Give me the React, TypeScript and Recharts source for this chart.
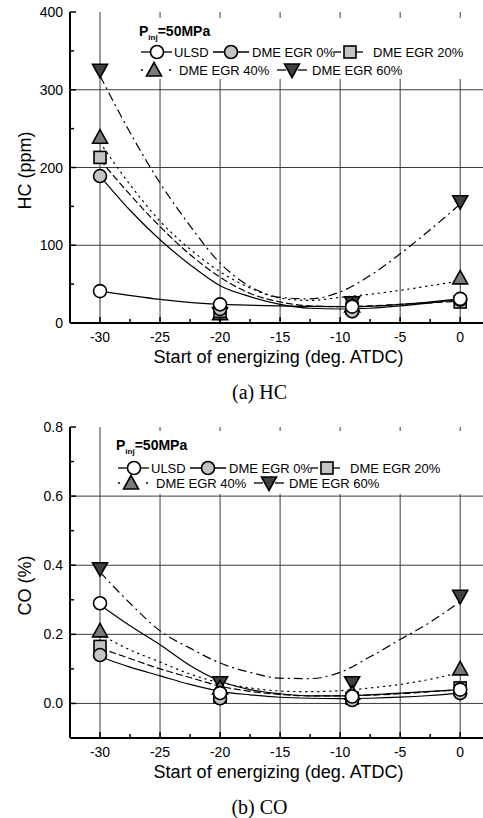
import React from 'react'
import { ComposedChart, Line, Scatter, XAxis, YAxis, ReferenceLine } from 'recharts'

// measured start of energizing points (deg. ATDC)
const runX = [-30, -20, -9, 0]
const fitX = [-30, -27.5, -25, -22.5, -20, -17.5, -15, -12.5, -10, -7.5, -5, -2.5, 0]

const xTicks = [-30, -27.5, -25, -22.5, -20, -17.5, -15, -12.5, -10, -7.5, -5, -2.5, 0]
const xGrid = [-30, -25, -20, -15, -10, -5, 0]

// (a) HC, ppm
const hcUlsd = [41, 24, 21, 31]
const hcEgr0 = [189, 18, 15, 30]
const hcEgr20 = [213, 15, 19, 27]
const hcEgr40 = [239, 12, 22, 58]
const hcEgr60 = [325, 12, 26, 156]

const hcFitEgr0 = [189, 145, 107, 75, 48, 34, 24, 19, 18, 19, 22, 26, 30]
const hcFitEgr20 = [210, 165, 124, 88, 59, 38, 27, 22, 21, 22, 24, 26, 28]
const hcFitEgr40 = [232, 178, 131, 95, 66, 45, 32, 29, 33, 37, 42, 48, 54]
const hcFitEgr60 = [318, 245, 180, 125, 77, 47, 33, 31, 40, 61, 89, 120, 153]

const hcYTicks = [0, 50, 100, 150, 200, 250, 300, 350, 400]
const hcYGrid = [100, 200, 300]

// (b) CO, %
const coUlsd = [0.29, 0.03, 0.02, 0.04]
const coEgr0 = [0.14, 0.015, 0.01, 0.03]
const coEgr20 = [0.165, 0.02, 0.015, 0.045]
const coEgr40 = [0.21, 0.045, 0.03, 0.1]
const coEgr60 = [0.39, 0.06, 0.06, 0.31]

const coFitUlsd = [0.285, 0.225, 0.17, 0.11, 0.065, 0.04, 0.028, 0.022, 0.022, 0.025, 0.03, 0.035, 0.04]
const coFitEgr0 = [0.135, 0.105, 0.08, 0.055, 0.035, 0.025, 0.018, 0.015, 0.014, 0.015, 0.018, 0.023, 0.03]
const coFitEgr20 = [0.16, 0.13, 0.1, 0.075, 0.05, 0.035, 0.026, 0.022, 0.022, 0.024, 0.028, 0.034, 0.04]
const coFitEgr40 = [0.2, 0.155, 0.12, 0.085, 0.06, 0.045, 0.036, 0.034, 0.037, 0.045, 0.055, 0.07, 0.09]
const coFitEgr60 = [0.38, 0.29, 0.21, 0.16, 0.117, 0.09, 0.073, 0.072, 0.09, 0.135, 0.185, 0.235, 0.295]

const coYTicks = [-0.1, 0, 0.1, 0.2, 0.3, 0.4, 0.5, 0.6, 0.7, 0.8]
const coYGrid = [0, 0.2, 0.4, 0.6]

const SANS = '"Liberation Sans", Arial, sans-serif'
const SERIF = '"Liberation Serif", "Times New Roman", serif'
const X_DOMAIN: [number, number] = [-32.5, 1.9]
const GRID = '#3c3c3c'

type Kind = 'circle' | 'square' | 'up' | 'down'

const DASH = {
  solid: undefined,
  dashed: '7 3',
  dotted: '1.3 4.7',
  dashdot: '9 4 2 4',
}

const series = [
  { key: 'ulsd', kind: 'circle' as Kind, fill: '#ffffff', dash: DASH.solid },
  { key: 'egr0', kind: 'circle' as Kind, fill: '#c4c4c4', dash: DASH.solid },
  { key: 'egr20', kind: 'square' as Kind, fill: '#c4c4c4', dash: DASH.dashed },
  { key: 'egr40', kind: 'up' as Kind, fill: '#7a7a7a', dash: DASH.dotted },
  { key: 'egr60', kind: 'down' as Kind, fill: '#404040', dash: DASH.dashdot },
]

const toPts = (xs: number[], ys: number[]) => xs.map((x, i) => ({ x, y: ys[i] }))

function Marker({ cx, cy, kind, fill }: { cx: number; cy: number; kind: Kind; fill: string }) {
  const st = { fill, stroke: '#000', strokeWidth: 1.6 }
  if (kind === 'circle') return <circle cx={cx} cy={cy} r={6.5} {...st} />
  if (kind === 'square') return <rect x={cx - 6} y={cy - 6} width={12} height={12} {...st} />
  if (kind === 'up')
    return <polygon points={`${cx},${cy - 7.5} ${cx + 7.5},${cy + 6} ${cx - 7.5},${cy + 6}`} {...st} />
  return <polygon points={`${cx - 7.5},${cy - 6} ${cx + 7.5},${cy - 6} ${cx},${cy + 7.5}`} {...st} />
}

function BottomTick(props: any) {
  const { x, y, payload } = props
  const v = payload.value
  const major = v % 5 === 0
  return (
    <g>
      <line x1={x} x2={x} y1={y} y2={y - (major ? 6 : 4)} stroke="#000" strokeWidth={1.5} />
      {major && (
        <text x={x} y={y + 19} textAnchor="middle" fontSize={14} fontFamily={SANS} fill="#000">
          {v}
        </text>
      )}
    </g>
  )
}

function TopTick(props: any) {
  const { x, y, payload } = props
  const major = payload.value % 5 === 0
  return <line x1={x} x2={x} y1={y} y2={y + (major ? 6 : 4)} stroke="#000" strokeWidth={1.5} />
}

function makeLeftTick(isMajor: (v: number) => boolean, fmt: (v: number) => string) {
  return (props: any) => {
    const { x, y, payload } = props
    const v = payload.value
    const major = isMajor(v)
    return (
      <g>
        <line x1={x} x2={x + (major ? 6 : 4)} y1={y} y2={y} stroke="#000" strokeWidth={1.5} />
        {major && (
          <text x={x - 7} y={y + 5} textAnchor="end" fontSize={14} fontFamily={SANS} fill="#000">
            {fmt(v)}
          </text>
        )}
      </g>
    )
  }
}

const hcLeftTick = makeLeftTick((v) => v % 100 === 0, (v) => String(v))
const coLeftTick = makeLeftTick((v) => Math.round(v * 10) % 2 === 0, (v) => v.toFixed(1))

function xTitle(caption: string) {
  return (props: any) => {
    const vb = props.viewBox
    const cx = vb.x + vb.width / 2
    return (
      <g>
        <text x={cx + 2} y={vb.y + 40} textAnchor="middle" fontSize={18} fontFamily={SANS} fill="#000">
          Start of energizing (deg. ATDC)
        </text>
        <text x={cx - 17} y={vb.y + 76} textAnchor="middle" fontSize={20} fontFamily={SERIF} fill="#000">
          {caption}
        </text>
      </g>
    )
  }
}

function yTitle(title: string) {
  return (props: any) => {
    const vb = props.viewBox
    const cx = 25
    const cy = vb.y + vb.height / 2 + 3
    return (
      <text
        x={cx}
        y={cy}
        transform={`rotate(-90 ${cx} ${cy})`}
        textAnchor="middle"
        dominantBaseline="central"
        fontSize={18}
        fontFamily={SANS}
        fill="#000"
      >
        {title}
      </text>
    )
  }
}

interface PanelProps {
  top: number
  height: number
  axisHeight: number
  yDomain: [number, number]
  yTicks: number[]
  yGrid: number[]
  leftTick: any
  yLabel: string
  caption: string
  points: number[][]
  fits: { xs: number[]; ys: number[] }[]
}

function Panel({ top, height, axisHeight, yDomain, yTicks, yGrid, leftTick, yLabel, caption, points, fits }: PanelProps) {
  return (
    <div style={{ position: 'absolute', left: 0, top, width: 483, height }}>
      <ComposedChart width={483} height={height} margin={{ top: 12, right: 0, bottom: 0, left: 0 }}>
        <XAxis
          xAxisId="top"
          orientation="top"
          type="number"
          dataKey="x"
          domain={X_DOMAIN}
          allowDataOverflow
          ticks={xTicks}
          interval={0}
          height={0}
          tickSize={0}
          tickMargin={0}
          tickLine={false}
          tick={TopTick}
          axisLine={{ stroke: '#000', strokeWidth: 2 }}
        />
        <XAxis
          type="number"
          dataKey="x"
          domain={X_DOMAIN}
          allowDataOverflow
          ticks={xTicks}
          interval={0}
          height={axisHeight}
          tickSize={0}
          tickMargin={0}
          tickLine={false}
          tick={BottomTick}
          axisLine={{ stroke: '#000', strokeWidth: 2 }}
          label={xTitle(caption)}
        />
        <YAxis
          type="number"
          dataKey="y"
          domain={yDomain}
          allowDataOverflow
          ticks={yTicks}
          interval={0}
          width={70}
          tickSize={0}
          tickMargin={0}
          tickLine={false}
          tick={leftTick}
          axisLine={{ stroke: '#000', strokeWidth: 2 }}
          label={yTitle(yLabel)}
        />
        {xGrid.map((v) => (
          <ReferenceLine key={`gx${v}`} x={v} stroke={GRID} strokeWidth={1} />
        ))}
        {yGrid.map((v) => (
          <ReferenceLine key={`gy${v}`} y={v} stroke={GRID} strokeWidth={1} />
        ))}
        {fits.map((f, i) => (
          <Line
            key={`fit-${series[i].key}`}
            data={toPts(f.xs, f.ys)}
            dataKey="y"
            type="monotone"
            stroke="#000"
            strokeWidth={1.2}
            strokeDasharray={series[i].dash}
            strokeLinecap={series[i].dash === DASH.dotted ? 'round' : 'butt'}
            dot={false}
            activeDot={false}
            isAnimationActive={false}
          />
        ))}
        {[4, 3, 2, 1, 0].map((i) => (
          <Scatter
            key={`pts-${series[i].key}`}
            data={toPts(runX, points[i])}
            dataKey="y"
            isAnimationActive={false}
            shape={(p: any) => <Marker cx={p.cx} cy={p.cy} kind={series[i].kind} fill={series[i].fill} />}
          />
        ))}
      </ComposedChart>
    </div>
  )
}

function Sample({ x1, x2, y, style, kind, fill, mx }: any) {
  let line: React.ReactNode = null
  if (style === 'solid') line = <line x1={x1} x2={x2} y1={y} y2={y} stroke="#000" strokeWidth={1.3} />
  if (style === 'dashed')
    line = (
      <g stroke="#000" strokeWidth={1.3}>
        <line x1={x1} x2={x1 + 7} y1={y} y2={y} />
        <line x1={x2 - 7} x2={x2} y1={y} y2={y} />
      </g>
    )
  if (style === 'dotted')
    line = (
      <g fill="#000">
        <circle cx={x1 + 1} cy={y} r={1} />
        <circle cx={x2 - 1} cy={y} r={1} />
      </g>
    )
  if (style === 'dashdot')
    line = (
      <g stroke="#000" strokeWidth={1.3}>
        <line x1={x1} x2={x1 + 9} y1={y} y2={y} />
        <line x1={x2 - 9} x2={x2} y1={y} y2={y} />
      </g>
    )
  return (
    <g>
      {line}
      <Marker cx={mx} cy={y} kind={kind} fill={fill} />
    </g>
  )
}

function LegendBlock({ x0, pY, r1, r2, box }: { x0: number; pY: number; r1: number; r2: number; box: number[] }) {
  const t = { fontSize: 13, fontFamily: SANS, fill: '#000' }
  return (
    <g>
      <rect x={box[0]} y={box[1]} width={box[2]} height={box[3]} fill="#fff" />
      <text x={x0 - 2} y={pY} fontSize={14} fontWeight="bold" fontFamily={SANS} fill="#000">
        P
        <tspan fontSize={8} dy={4}>
          inj
        </tspan>
        <tspan dy={-4}>=50MPa</tspan>
      </text>
      <Sample x1={x0} x2={x0 + 31} y={r1} style="solid" kind="circle" fill={series[0].fill} mx={x0 + 16} />
      <text x={x0 + 33} y={r1 + 4.5} {...t}>ULSD</text>
      <Sample x1={x0 + 72} x2={x0 + 108} y={r1} style="solid" kind="circle" fill={series[1].fill} mx={x0 + 90} />
      <text x={x0 + 111} y={r1 + 4.5} {...t}>DME EGR 0%</text>
      <Sample x1={x0 + 193} x2={x0 + 222} y={r1} style="dashed" kind="square" fill={series[2].fill} mx={x0 + 209} />
      <text x={x0 + 232} y={r1 + 4.5} {...t}>DME EGR 20%</text>
      <Sample x1={x0} x2={x0 + 30} y={r2} style="dotted" kind="up" fill={series[3].fill} mx={x0 + 13} />
      <text x={x0 + 38} y={r2 + 4.5} {...t}>DME EGR 40%</text>
      <Sample x1={x0 + 136} x2={x0 + 166} y={r2} style="dashdot" kind="down" fill={series[4].fill} mx={x0 + 151} />
      <text x={x0 + 171} y={r2 + 4.5} {...t}>DME EGR 60%</text>
    </g>
  )
}

export default function App() {
  const hcPoints = [hcUlsd, hcEgr0, hcEgr20, hcEgr40, hcEgr60]
  const hcFits = [
    { xs: runX, ys: hcUlsd },
    { xs: fitX, ys: hcFitEgr0 },
    { xs: fitX, ys: hcFitEgr20 },
    { xs: fitX, ys: hcFitEgr40 },
    { xs: fitX, ys: hcFitEgr60 },
  ]
  const coPoints = [coUlsd, coEgr0, coEgr20, coEgr40, coEgr60]
  const coFits = [
    { xs: fitX, ys: coFitUlsd },
    { xs: fitX, ys: coFitEgr0 },
    { xs: fitX, ys: coFitEgr20 },
    { xs: fitX, ys: coFitEgr40 },
    { xs: fitX, ys: coFitEgr60 },
  ]
  return (
    <div
      style={{
        position: 'absolute',
        left: 0,
        top: 0,
        width: 483,
        height: 818,
        overflow: 'hidden',
        background: '#fff',
        fontFamily: SANS,
      }}
    >
      <Panel
        top={0}
        height={410}
        axisHeight={87}
        yDomain={[0, 400]}
        yTicks={hcYTicks}
        yGrid={hcYGrid}
        leftTick={hcLeftTick}
        yLabel="HC (ppm)"
        caption="(a) HC"
        points={hcPoints}
        fits={hcFits}
      />
      <Panel
        top={415}
        height={403}
        axisHeight={80}
        yDomain={[-0.1, 0.8]}
        yTicks={coYTicks}
        yGrid={coYGrid}
        leftTick={coLeftTick}
        yLabel="CO (%)"
        caption="(b) CO"
        points={coPoints}
        fits={coFits}
      />
      <svg width={483} height={818} style={{ position: 'absolute', left: 0, top: 0, pointerEvents: 'none' }}>
        <LegendBlock x0={141} pY={36} r1={52} r2={70} box={[114, 18, 369, 61]} />
        <LegendBlock x0={118} pY={450} r1={468} r2={483} box={[108, 431, 375, 63]} />
      </svg>
    </div>
  )
}
